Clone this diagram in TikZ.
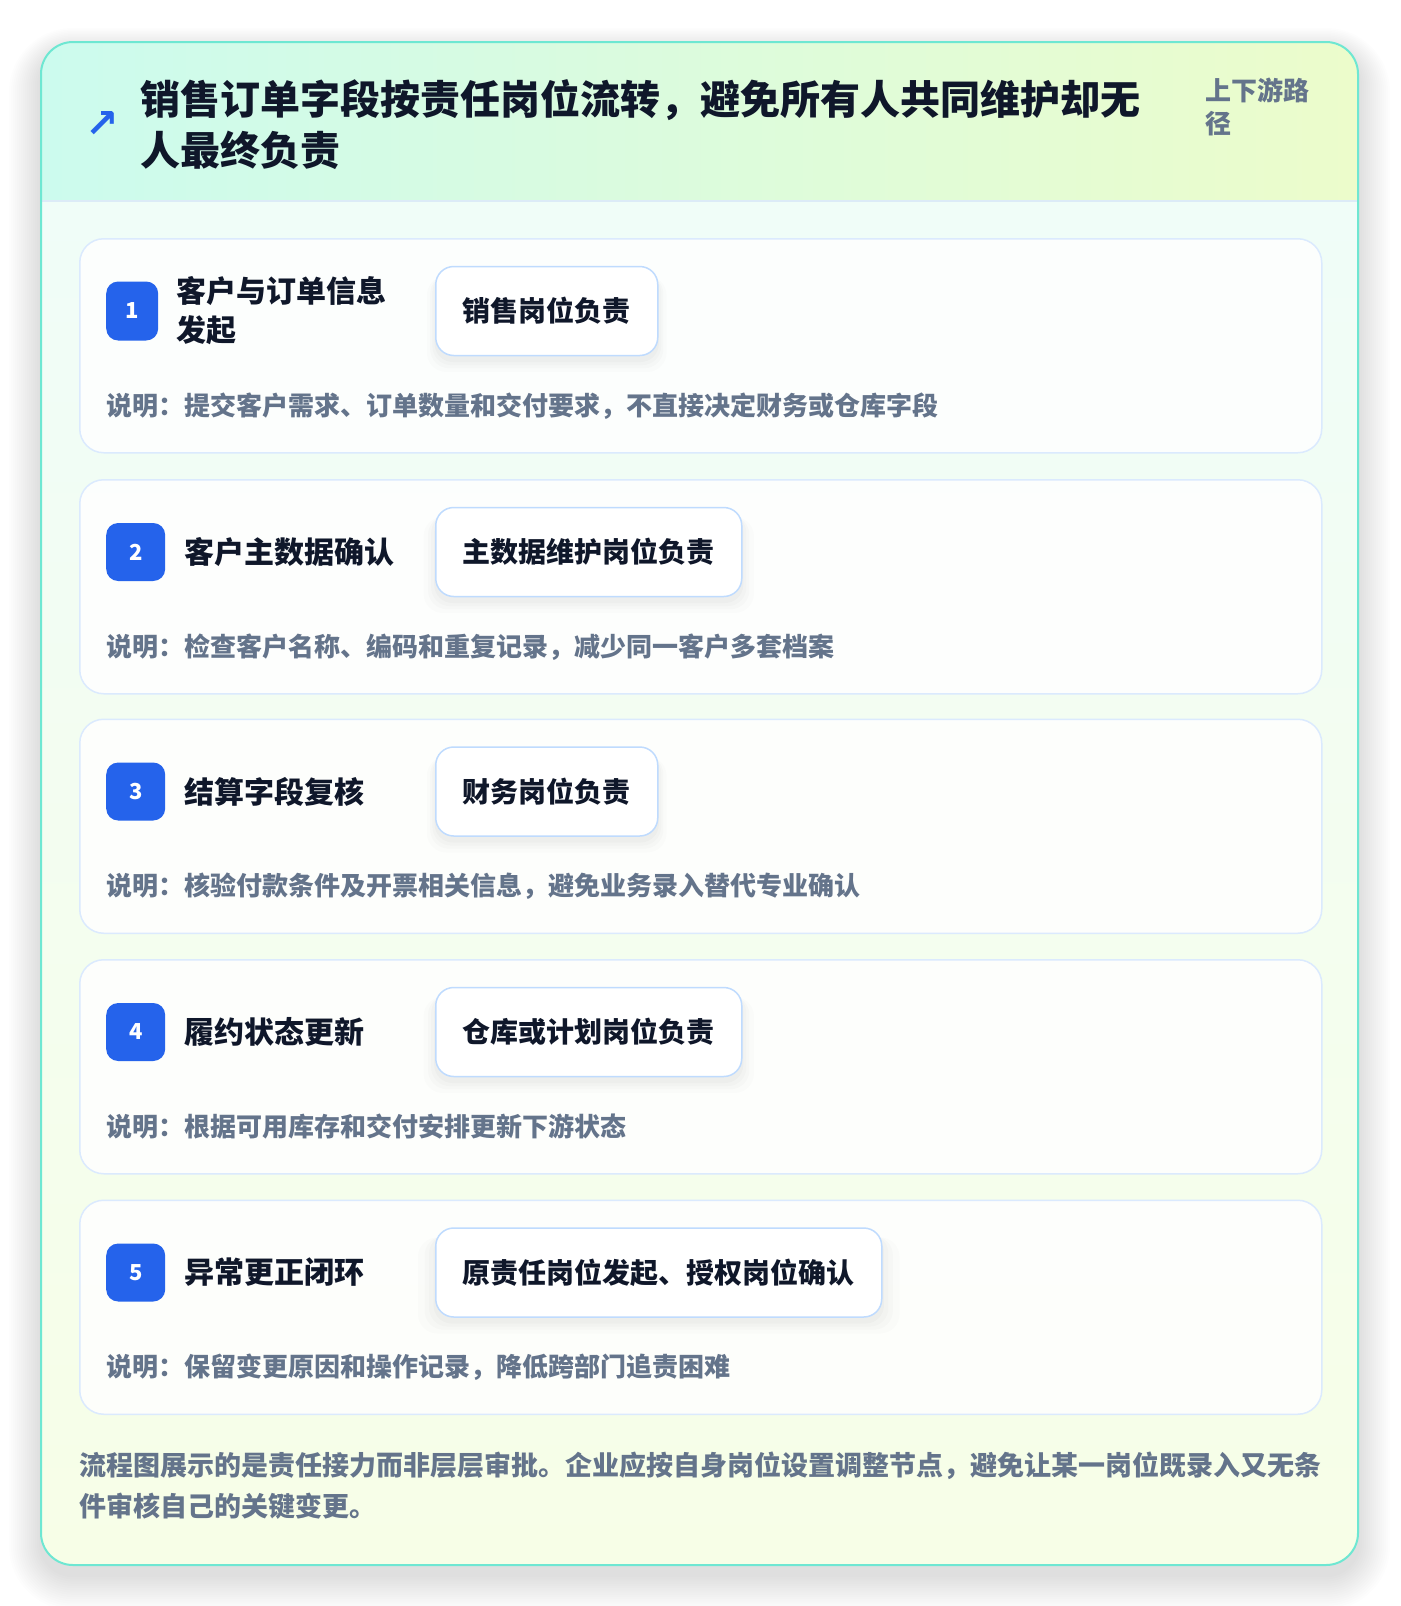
\documentclass[tikz,border=0pt]{standalone}
\usepackage{fontspec}
\setmainfont{Noto Sans CJK SC}
\newfontfamily\cjk{Noto Sans CJK SC}
\newfontfamily\dejavu{DejaVu Sans}
\usetikzlibrary{shadows}
\definecolor{tealborder}{HTML}{6EE7D2}
\definecolor{hdrL}{HTML}{CCFBEE}
\definecolor{hdrR}{HTML}{ECFCCB}
\definecolor{bodyT}{HTML}{F0FDF8}
\definecolor{bodyB}{HTML}{F7FEE7}
\definecolor{hdrline}{HTML}{DCEBF7}
\definecolor{cardline}{HTML}{DBEAFE}
\definecolor{roleline}{HTML}{BFDBFE}
\definecolor{badgeblue}{HTML}{2563EB}
\definecolor{ink}{HTML}{0F172A}
\definecolor{slate}{HTML}{64748B}
\tikzset{
  card/.style={draw=cardline, line width=1.5pt, fill=white, fill opacity=0.85, draw opacity=1,
    rounded corners=24pt, minimum width=1242pt, minimum height=214pt, inner sep=0pt},
  badge/.style={fill=badgeblue, rounded corners=12pt, inner sep=0pt, text=white,
    font=\cjk\bfseries\fontsize{22}{24}\selectfont},
  steptitle/.style={text=ink, inner sep=0pt, align=left, font=\cjk\bfseries\fontsize{30}{39}\selectfont},
  rolebox/.style={draw=roleline, line width=1.5pt, fill=white, rounded corners=18pt,
    minimum height=89pt, inner xsep=27pt, inner ysep=0pt, text=ink,
    font=\cjk\bfseries\fontsize{28}{32}\selectfont,
    drop shadow={shadow xshift=0pt, shadow yshift=-12pt, opacity=0.012, fill=black, shadow scale=1.08},
    drop shadow={shadow xshift=0pt, shadow yshift=-10pt, opacity=0.014, fill=black, shadow scale=1.05},
    drop shadow={shadow xshift=0pt, shadow yshift=-8pt, opacity=0.016, fill=black, shadow scale=1.03},
    drop shadow={shadow xshift=0pt, shadow yshift=-6pt, opacity=0.018, fill=black, shadow scale=1.01}},
  desctext/.style={text=slate, inner sep=0pt, font=\cjk\bfseries\fontsize{26}{30}\selectfont},
}
\newcommand\mkcard[8]{%
  \node[card, anchor=north west] (card#1) at (79,#2) {};
  \node[badge, minimum width=#3pt, minimum height=#4pt, anchor=west] (badge#1) at (106,#2+73) {#1};
  \node[steptitle, anchor=west] (title#1) at (#5,#2+73) {#6};
  \node[rolebox, anchor=west] (role#1) at (435,#2+73) {#7};
  \node[desctext, anchor=west] (desc#1) at (106,#2+168) {#8};
}
\begin{document}
\begin{tikzpicture}[x=1pt,y=-1pt]
\useasboundingbox (0,0) rectangle (1400,1606);
\fill[white] (0,0) rectangle (1400,1606);
% outer shadow
\foreach \i in {1,...,16}{
  \pgfmathsetmacro\rr{32+2*\i}
  \fill[black, opacity=0.007, rounded corners=\rr pt] ({41-2*\i},{52-1.5*\i}) rectangle ({1358+2*\i},{1575+2.2*\i});
}
% outer card backgrounds
\begin{scope}
  \clip[rounded corners=32pt] (41,42) rectangle (1358,1565);
  \shade[left color=hdrL, right color=hdrR] (41,42) rectangle (1358,201);
  \shade[top color=bodyT, bottom color=bodyB] (41,201) rectangle (1358,1565);
\end{scope}
\draw[hdrline, line width=1.5pt] (41,201) -- (1358,201);
\draw[tealborder, line width=2pt, rounded corners=32pt] (41,42) rectangle (1358,1565);
% header
\node[text=badgeblue, inner sep=0pt, font=\dejavu\bfseries\fontsize{40}{40}\selectfont] (arrow) at (102,125) {↗};
\node[text=ink, inner sep=0pt, anchor=west, align=left, font=\cjk\bfseries\fontsize{40}{51}\selectfont] (title) at (140,124.5)
  {销售订单字段按责任岗位流转，避免所有人共同维护却无\\人最终负责};
\node[text=slate, inner sep=0pt, anchor=west, align=left, font=\cjk\bfseries\fontsize{26}{33}\selectfont] (path) at (1205,106.5)
  {上下游路\\径};
% step cards
\mkcard{1}{238}{52}{59}{176}{客户与订单信息\\发起}{销售岗位负责}{说明：提交客户需求、订单数量和交付要求，不直接决定财务或仓库字段}
\mkcard{2}{479}{59}{58}{184}{客户主数据确认}{主数据维护岗位负责}{说明：检查客户名称、编码和重复记录，减少同一客户多套档案}
\mkcard{3}{718.5}{59}{58}{184}{结算字段复核}{财务岗位负责}{说明：核验付款条件及开票相关信息，避免业务录入替代专业确认}
\mkcard{4}{959}{59}{58}{184}{履约状态更新}{仓库或计划岗位负责}{说明：根据可用库存和交付安排更新下游状态}
\mkcard{5}{1199.5}{59}{58}{184}{异常更正闭环}{原责任岗位发起、授权岗位确认}{说明：保留变更原因和操作记录，降低跨部门追责困难}
% footer
\node[text=slate, inner sep=0pt, anchor=west, align=left, font=\cjk\bfseries\fontsize{27}{41}\selectfont] (footer) at (79,1486)
  {流程图展示的是责任接力而非层层审批。企业应按自身岗位设置调整节点，避免让某一岗位既录入又无条\\件审核自己的关键变更。};
\end{tikzpicture}
\end{document}
